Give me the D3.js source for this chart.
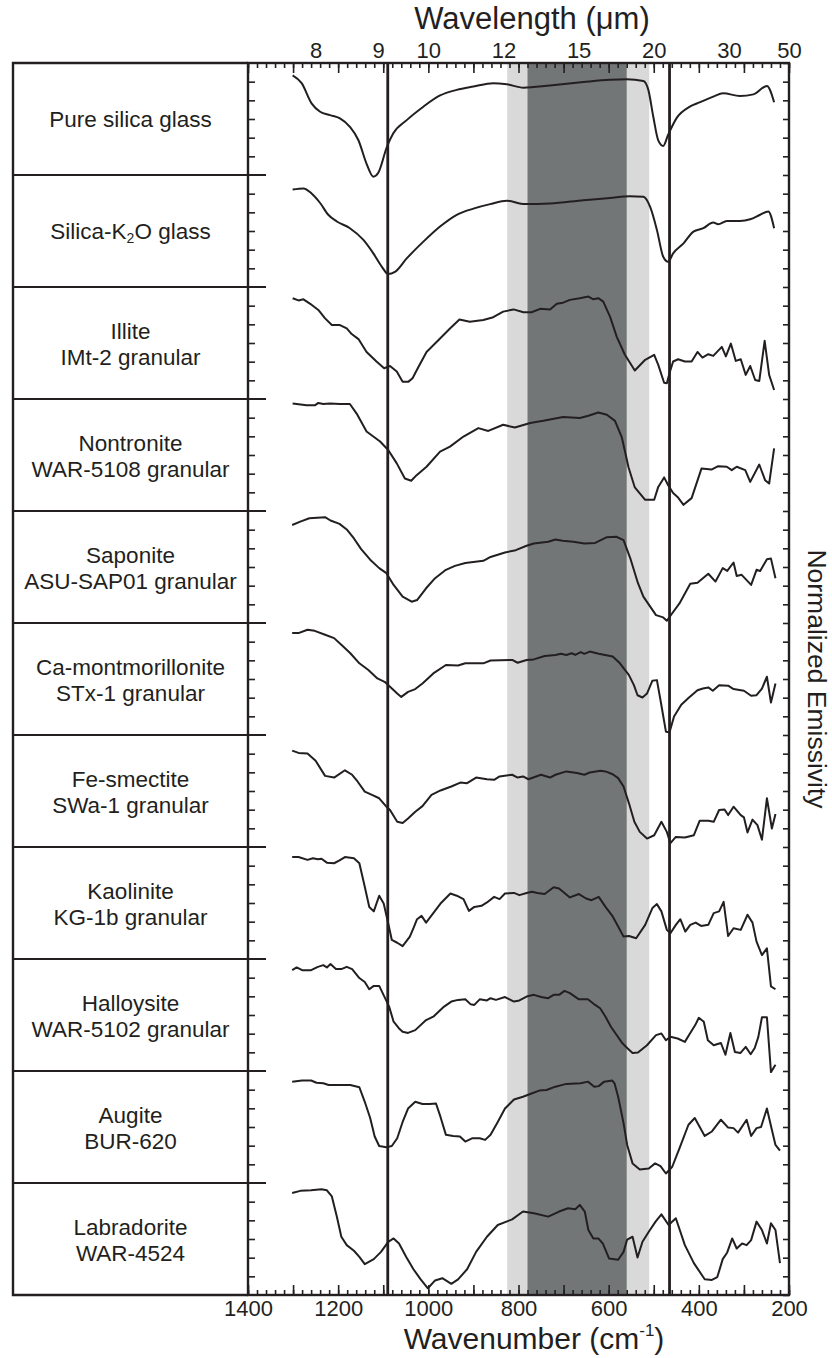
<!DOCTYPE html>
<html>
<head>
<meta charset="utf-8">
<script src="https://cdn.jsdelivr.net/npm/d3@7"></script>
<style>
  body { margin: 0; background: #fff; }
  text { font-family: "Liberation Sans", Arial, sans-serif; fill: #231f20; }
</style>
</head>
<body>
<svg id="chart" width="832" height="1358"></svg>
<script>
// sample names, top to bottom
const samples = [
  ['Pure silica glass'],
  ['Silica-K2O glass'],
  ['Illite', 'IMt-2 granular'],
  ['Nontronite', 'WAR-5108 granular'],
  ['Saponite', 'ASU-SAP01 granular'],
  ['Ca-montmorillonite', 'STx-1 granular'],
  ['Fe-smectite', 'SWa-1 granular'],
  ['Kaolinite', 'KG-1b granular'],
  ['Halloysite', 'WAR-5102 granular'],
  ['Augite', 'BUR-620'],
  ['Labradorite', 'WAR-4524']
];

const wavelengthTicks = [8, 9, 10, 12, 15, 20, 30, 50];
const wavenumberLabels = [1400, 1200, 1000, 800, 600, 400, 200];
const markerLines = [1090, 465];
const lightBand = [825, 510];
const darkBand = [780, 560];

// spectra: [wavenumber cm-1, emissivity scaled within its strip (0 bottom, 1 top)]
const pureSilica = [[1301,.89],[1281,.82],[1259,.64],[1240,.565],[1218,.535],[1196,.505],[1174,.43],[1155,.31],[1137,.10],[1122,-.015],[1111,.02],[1092,.25],[1078,.37],[1048,.49],[1011,.61],[974,.71],[937,.76],[900,.79],[856,.82],[826,.81],[789,.78],[730,.80],[656,.83],[597,.85],[560,.855],[523,.84],[512,.76],[501,.52],[490,.31],[479,.26],[468,.36],[449,.51],[420,.61],[397,.65],[368,.70],[346,.73],[309,.705],[279,.72],[249,.795],[233,.65]];
const silicaK2O = [[1301,.87],[1277,.88],[1259,.835],[1240,.75],[1222,.645],[1203,.585],[1174,.525],[1144,.42],[1122,.30],[1103,.18],[1089,.115],[1074,.135],[1048,.255],[1011,.405],[974,.54],[937,.645],[900,.70],[863,.74],[826,.77],[786,.74],[730,.745],[656,.775],[597,.795],[553,.81],[523,.805],[508,.715],[493,.51],[479,.27],[468,.225],[457,.30],[434,.39],[412,.495],[390,.525],[368,.575],[357,.56],[338,.59],[309,.59],[286,.605],[264,.645],[246,.675],[233,.525]];
const illite = [[1301,.90],[1288,.88],[1277,.89],[1262,.85],[1244,.795],[1229,.72],[1214,.66],[1196,.66],[1181,.63],[1170,.58],[1155,.535],[1137,.42],[1115,.335],[1098,.275],[1085,.295],[1070,.245],[1057,.155],[1044,.155],[1035,.185],[1022,.285],[1004,.42],[974,.54],[952,.63],[931,.71],[908,.69],[878,.705],[856,.73],[834,.78],[811,.80],[789,.775],[771,.775],[752,.805],[730,.80],[715,.85],[701,.86],[686,.885],[664,.90],[645,.915],[634,.89],[623,.90],[612,.87],[597,.735],[582,.555],[564,.395],[542,.255],[519,.35],[499,.395],[490,.305],[477,.145],[471,.14],[464,.245],[457,.335],[446,.355],[431,.335],[416,.335],[403,.42],[392,.37],[379,.40],[368,.385],[349,.465],[340,.38],[329,.495],[318,.34],[307,.355],[296,.215],[286,.295],[275,.17],[266,.16],[254,.52],[244,.215],[233,.08]];
const nontronite = [[1301,.96],[1270,.945],[1251,.945],[1244,.965],[1233,.955],[1218,.96],[1196,.955],[1174,.955],[1159,.87],[1137,.71],[1122,.665],[1107,.62],[1089,.545],[1070,.425],[1052,.29],[1038,.27],[1026,.32],[1004,.395],[974,.53],[952,.575],[922,.665],[889,.74],[867,.715],[834,.77],[808,.745],[774,.785],[745,.805],[701,.84],[664,.83],[645,.85],[623,.88],[604,.86],[586,.805],[571,.66],[556,.39],[542,.21],[519,.10],[499,.10],[490,.215],[477,.30],[468,.23],[457,.16],[446,.12],[434,.055],[416,.115],[394,.38],[372,.37],[357,.40],[338,.395],[327,.365],[316,.395],[297,.365],[286,.26],[266,.415],[253,.275],[244,.245],[233,.56]];
const saponite = [[1302,.875],[1284,.905],[1264,.935],[1229,.945],[1217,.915],[1197,.885],[1181,.835],[1165,.755],[1149,.66],[1129,.565],[1109,.49],[1093,.445],[1077,.34],[1057,.235],[1037,.19],[1025,.205],[1005,.31],[985,.40],[961,.475],[941,.51],[918,.535],[878,.555],[862,.59],[830,.63],[806,.65],[782,.69],[766,.71],[734,.725],[718,.745],[702,.735],[678,.725],[654,.71],[630,.715],[605,.765],[583,.77],[567,.74],[551,.565],[535,.355],[523,.235],[495,.07],[479,.05],[471,.02],[463,.065],[443,.175],[419,.35],[403,.36],[379,.44],[363,.37],[347,.49],[337,.465],[323,.54],[316,.42],[305,.43],[284,.34],[272,.475],[264,.465],[249,.57],[240,.575],[230,.40]];
const caMontmorillonite = [[1302,.91],[1288,.91],[1268,.94],[1252,.93],[1229,.895],[1209,.865],[1193,.805],[1173,.73],[1153,.64],[1133,.58],[1113,.505],[1097,.475],[1085,.43],[1069,.37],[1060,.34],[1045,.385],[1029,.41],[1013,.46],[989,.55],[961,.625],[934,.62],[918,.64],[878,.64],[862,.665],[814,.67],[802,.645],[782,.67],[766,.675],[742,.705],[718,.715],[706,.725],[694,.715],[682,.73],[674,.715],[662,.74],[654,.725],[642,.745],[622,.725],[591,.70],[575,.64],[555,.535],[544,.445],[536,.355],[525,.335],[515,.37],[503,.485],[493,.49],[485,.31],[473,.03],[465,.025],[455,.165],[439,.27],[423,.33],[403,.40],[391,.415],[379,.425],[369,.395],[355,.445],[335,.44],[323,.41],[300,.395],[284,.35],[272,.355],[260,.415],[249,.52],[240,.29],[230,.46]];
const feSmectite = [[1302,.86],[1288,.84],[1268,.835],[1250,.77],[1229,.635],[1209,.62],[1185,.685],[1169,.645],[1157,.585],[1141,.495],[1125,.465],[1109,.435],[1093,.36],[1085,.33],[1069,.225],[1057,.215],[1045,.255],[1029,.315],[1013,.365],[993,.465],[973,.505],[949,.54],[929,.575],[914,.57],[894,.62],[870,.605],[854,.60],[842,.63],[814,.645],[802,.62],[790,.63],[778,.605],[750,.645],[730,.62],[718,.645],[694,.675],[670,.66],[654,.645],[642,.665],[618,.68],[607,.675],[591,.65],[579,.615],[567,.54],[555,.39],[543,.225],[531,.135],[515,.075],[499,.105],[483,.225],[471,.135],[463,.035],[451,.09],[431,.085],[411,.105],[398,.235],[379,.235],[367,.225],[355,.33],[343,.335],[335,.285],[323,.36],[307,.285],[300,.265],[292,.13],[281,.245],[270,.195],[260,.065],[249,.435],[238,.165],[230,.295]];
const kaolinite = [[1302,.91],[1288,.91],[1268,.885],[1256,.90],[1245,.89],[1237,.895],[1225,.86],[1209,.855],[1197,.88],[1185,.91],[1165,.90],[1153,.855],[1141,.645],[1131,.465],[1121,.425],[1109,.565],[1099,.495],[1089,.32],[1081,.17],[1069,.145],[1057,.115],[1041,.20],[1033,.275],[1025,.355],[1015,.385],[1005,.325],[989,.41],[973,.495],[951,.585],[937,.565],[922,.535],[910,.43],[898,.465],[882,.475],[870,.505],[854,.555],[842,.535],[830,.585],[810,.59],[798,.57],[782,.59],[770,.60],[758,.59],[742,.58],[722,.64],[710,.63],[686,.55],[666,.58],[650,.54],[638,.525],[622,.555],[607,.465],[591,.38],[579,.29],[567,.20],[555,.205],[539,.185],[519,.305],[503,.455],[493,.49],[483,.425],[471,.26],[463,.23],[451,.305],[441,.355],[430,.245],[419,.305],[407,.325],[395,.295],[379,.305],[367,.41],[355,.425],[345,.51],[335,.205],[323,.275],[307,.26],[292,.395],[281,.325],[272,.155],[260,.035],[249,.095],[240,-.245],[230,-.27]];
const halloysite = [[1302,.90],[1292,.925],[1280,.90],[1260,.90],[1245,.93],[1233,.945],[1225,.925],[1217,.955],[1205,.91],[1193,.91],[1181,.93],[1169,.91],[1153,.83],[1141,.795],[1131,.73],[1121,.76],[1109,.76],[1097,.66],[1087,.575],[1077,.44],[1065,.38],[1057,.35],[1045,.34],[1029,.365],[1005,.455],[989,.485],[965,.575],[949,.62],[934,.635],[918,.64],[906,.595],[898,.59],[886,.64],[870,.63],[862,.65],[850,.635],[830,.66],[810,.62],[798,.63],[782,.665],[766,.68],[750,.66],[734,.65],[722,.68],[710,.68],[698,.715],[686,.695],[666,.64],[646,.64],[630,.59],[619,.56],[607,.485],[595,.395],[571,.255],[559,.205],[547,.16],[535,.165],[515,.23],[495,.32],[483,.335],[473,.275],[463,.305],[447,.29],[431,.26],[419,.34],[408,.41],[400,.475],[389,.44],[380,.275],[367,.23],[351,.25],[341,.145],[330,.34],[320,.17],[308,.16],[296,.215],[285,.15],[276,.205],[268,.305],[260,.48],[249,.48],[240,-.01],[230,.055]];
const augite = [[1302,.905],[1280,.915],[1260,.915],[1248,.895],[1233,.89],[1221,.875],[1197,.875],[1173,.875],[1153,.855],[1141,.725],[1129,.58],[1119,.415],[1109,.33],[1093,.32],[1081,.33],[1069,.40],[1057,.545],[1045,.665],[1029,.725],[1013,.705],[997,.705],[983,.71],[973,.59],[961,.43],[945,.42],[930,.415],[918,.37],[902,.40],[886,.40],[874,.385],[862,.43],[846,.545],[830,.665],[810,.745],[790,.77],[774,.795],[754,.825],[738,.83],[718,.86],[694,.885],[662,.89],[646,.905],[632,.86],[622,.865],[610,.905],[592,.915],[587,.89],[579,.77],[567,.535],[559,.34],[547,.175],[531,.12],[511,.13],[497,.175],[485,.15],[473,.085],[459,.145],[443,.31],[423,.52],[409,.58],[387,.42],[371,.46],[351,.565],[335,.495],[323,.49],[313,.45],[294,.565],[284,.42],[272,.49],[262,.50],[249,.665],[238,.475],[230,.34],[220,.29]];
const labradorite = [[1302,.91],[1284,.93],[1260,.935],[1237,.945],[1225,.935],[1214,.88],[1203,.70],[1193,.52],[1181,.445],[1165,.395],[1153,.34],[1141,.275],[1121,.32],[1105,.385],[1089,.475],[1077,.505],[1065,.46],[1049,.34],[1033,.23],[1017,.14],[1001,.06],[985,.13],[969,.15],[949,.10],[934,.14],[914,.23],[894,.385],[870,.52],[846,.625],[814,.675],[790,.745],[766,.73],[734,.70],[710,.745],[690,.775],[674,.765],[664,.805],[653,.745],[645,.58],[634,.505],[623,.505],[613,.46],[599,.325],[579,.315],[567,.385],[559,.495],[547,.52],[536,.335],[525,.475],[511,.565],[496,.655],[483,.72],[467,.625],[451,.685],[431,.445],[411,.285],[387,.14],[371,.135],[359,.16],[347,.32],[337,.38],[326,.505],[316,.415],[304,.46],[294,.445],[284,.49],[272,.655],[260,.58],[249,.46],[240,.64],[230,.58],[220,.285]];

const spectra = [pureSilica, silicaK2O, illite, nontronite, saponite, caMontmorillonite,
  feSmectite, kaolinite, halloysite, augite, labradorite];

const ink = '#231f20';
const svg = d3.select('#chart');

const plot = { left: 248, right: 789, top: 63, bottom: 1295 };
const panelLeft = 13;

const x = d3.scaleLinear().domain([1400, 200]).range([plot.left, plot.right]);
const band = d3.scaleBand().domain(d3.range(samples.length)).range([plot.top, plot.bottom]);
const yIn = d3.scaleLinear().domain([0, 1]).range([band.bandwidth(), 0]);

// Shaded regions
svg.append('rect')
  .attr('x', x(lightBand[0])).attr('y', plot.top)
  .attr('width', x(lightBand[1]) - x(lightBand[0])).attr('height', plot.bottom - plot.top)
  .attr('fill', '#d9d9d9');
svg.append('rect')
  .attr('x', x(darkBand[0])).attr('y', plot.top)
  .attr('width', x(darkBand[1]) - x(darkBand[0])).attr('height', plot.bottom - plot.top)
  .attr('fill', '#737677');

// Reference lines
svg.selectAll('.marker')
  .data(markerLines)
  .enter().append('line')
  .attr('x1', d => x(d)).attr('x2', d => x(d))
  .attr('y1', plot.top).attr('y2', plot.bottom)
  .attr('stroke', ink).attr('stroke-width', 2.8);

// Spectra
const line = d3.line()
  .x(d => x(d[0]))
  .y(d => yIn(d[1]));

const rows = svg.selectAll('.row')
  .data(spectra)
  .enter().append('g')
  .attr('transform', (d, i) => 'translate(0,' + band(i) + ')');

rows.append('path')
  .attr('d', (d, i) => line.curve(i < 2 ? d3.curveMonotoneX : d3.curveLinear)(d))
  .attr('fill', 'none')
  .attr('stroke', ink)
  .attr('stroke-width', 2)
  .attr('stroke-linejoin', 'round');

// Ticks: top and bottom (inward)
const fine = d3.range(200, 1401, 20);
const coarse = d3.range(200, 1401, 100);

function tickAxis(axis, y, values, size) {
  const g = svg.append('g')
    .attr('transform', 'translate(0,' + y + ')')
    .call(axis(x).tickValues(values).tickSize(size).tickSizeOuter(0).tickFormat(''));
  g.select('.domain').remove();
  g.selectAll('line').attr('stroke', ink).attr('stroke-width', 1.6);
  return g;
}
tickAxis(d3.axisBottom, plot.bottom, fine, -5);
tickAxis(d3.axisBottom, plot.bottom, coarse, -10);
tickAxis(d3.axisTop, plot.top, fine, -5);
tickAxis(d3.axisTop, plot.top, coarse, -10);

// bottom labels
const bottomLabels = svg.append('g')
  .attr('transform', 'translate(0,' + plot.bottom + ')')
  .call(d3.axisBottom(x).tickValues(wavenumberLabels).tickSize(0).tickPadding(5).tickFormat(d3.format('d')));
bottomLabels.select('.domain').remove();
bottomLabels.selectAll('text').attr('font-size', 22).attr('font-family', null).attr('fill', ink);

// top labels in wavelength
const topLabels = svg.append('g')
  .attr('transform', 'translate(0,' + plot.top + ')')
  .call(d3.axisTop(x).tickValues(wavelengthTicks.map(l => 1e4 / l))
    .tickSize(0).tickPadding(5).tickFormat(d => Math.round(1e4 / d)));
topLabels.select('.domain').remove();
topLabels.selectAll('text').attr('font-size', 22).attr('font-family', null).attr('fill', ink);

// Left and right minor ticks
const yTick = d3.scaleLinear().domain([0, samples.length * 6]).range([plot.top, plot.bottom]);
const subTicks = d3.range(0, samples.length * 6 + 1);
const leftTicks = svg.append('g')
  .attr('transform', 'translate(' + plot.left + ',0)')
  .call(d3.axisLeft(yTick).tickValues(subTicks.filter(t => t % 6 !== 0)).tickSize(-7).tickFormat(''));
leftTicks.select('.domain').remove();
leftTicks.selectAll('line').attr('stroke', ink).attr('stroke-width', 1.6);
const rightTicks = svg.append('g')
  .attr('transform', 'translate(' + plot.right + ',0)')
  .call(d3.axisRight(yTick).tickValues(subTicks).tickSize(-6).tickFormat(''));
rightTicks.select('.domain').remove();
rightTicks.selectAll('line').attr('stroke', ink).attr('stroke-width', 1.6);

// Row dividers across the label panel
svg.selectAll('.divider')
  .data(d3.range(1, samples.length))
  .enter().append('line')
  .attr('x1', panelLeft).attr('x2', plot.left + 18)
  .attr('y1', i => band(i)).attr('y2', i => band(i))
  .attr('stroke', ink).attr('stroke-width', 2.2);

// Frame
const frame = svg.append('g').attr('fill', 'none').attr('stroke', ink).attr('stroke-width', 2.4);
frame.append('rect')
  .attr('x', plot.left).attr('y', plot.top)
  .attr('width', plot.right - plot.left).attr('height', plot.bottom - plot.top);
frame.append('path')
  .attr('d', 'M' + plot.left + ',' + plot.top + 'H' + panelLeft + 'V' + plot.bottom + 'H' + plot.left);

// Sample labels
const labelX = (panelLeft + plot.left) / 2;
samples.forEach((lines, i) => {
  const c = band(i) + band.bandwidth() / 2;
  const t = svg.append('text')
    .attr('x', labelX)
    .attr('text-anchor', 'middle')
    .attr('font-size', 22.5);
  if (lines.length === 1) {
    t.attr('y', c + 8);
    if (lines[0].indexOf('K2O') >= 0) {
      t.append('tspan').text('Silica-K');
      t.append('tspan').attr('font-size', 14).attr('dy', 4).text('2');
      t.append('tspan').attr('dy', -4).text('O glass');
    } else {
      t.text(lines[0]);
    }
  } else {
    t.attr('y', c - 4);
    t.append('tspan').attr('x', labelX).text(lines[0]);
    t.append('tspan').attr('x', labelX).attr('dy', 26).text(lines[1]);
  }
});

// Axis titles
svg.append('text')
  .attr('x', 532).attr('y', 29)
  .attr('text-anchor', 'middle')
  .attr('font-size', 31)
  .text('Wavelength (\u03bcm)');

const xTitle = svg.append('text')
  .attr('x', 534).attr('y', 1349)
  .attr('text-anchor', 'middle')
  .attr('font-size', 30);
xTitle.append('tspan').text('Wavenumber (cm');
xTitle.append('tspan').attr('font-size', 17).attr('dy', -13).text('-1');
xTitle.append('tspan').attr('dy', 13).text(')');

svg.append('text')
  .attr('transform', 'translate(808,' + (plot.top + plot.bottom) / 2 + ') rotate(90)')
  .attr('text-anchor', 'middle')
  .attr('font-size', 26.5)
  .text('Normalized Emissivity');
</script>
</body>
</html>
